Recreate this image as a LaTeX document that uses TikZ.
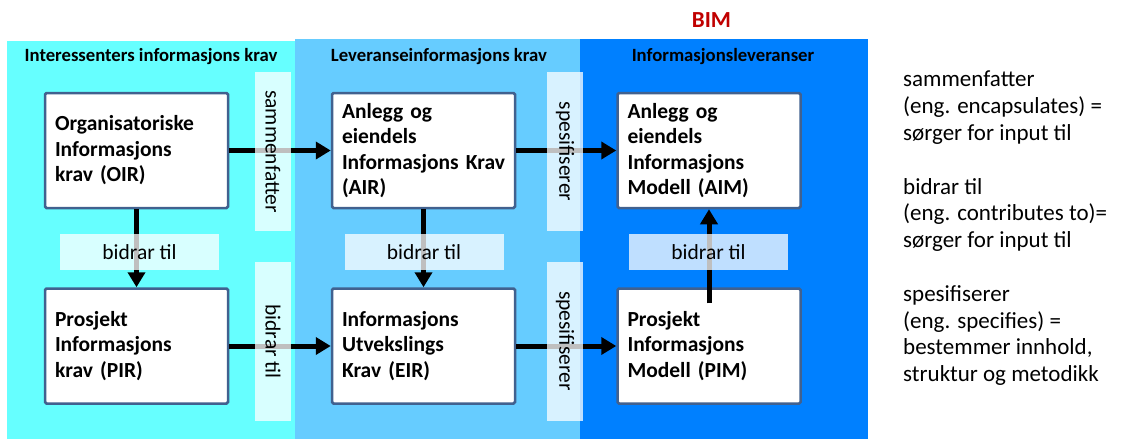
\documentclass[tikz,border=0pt]{standalone}
\usepackage{fontspec}
\setmainfont{Carlito}
\usetikzlibrary{arrows.meta}
\definecolor{interesse}{HTML}{66FFFF}
\definecolor{leveranse}{HTML}{66CCFF}
\definecolor{infolev}{HTML}{0080FF}
\definecolor{boxline}{HTML}{41618F}
\definecolor{bimred}{HTML}{C00000}
\def \panelA{ (7,41) rectangle (295,439) }
\def \panelB{ (295,39) rectangle (580,439) }
\def \panelC{ (580,39) rectangle (868,439) }

\begin{document}
\begin{tikzpicture}[x=1pt,y=-1pt,
    infobox/.style={draw=boxline, line width=2.5pt, fill=white, rounded corners=1.5pt,
      minimum width=183pt, minimum height=115pt, text width=163pt, inner xsep=10pt,
      align=left, font=\fontsize{21.5}{25.5}\selectfont\bfseries},
    header/.style={font=\fontsize{18.7}{21}\selectfont\bfseries},
    relation/.style={fill=white, fill opacity=0.75, text opacity=1, inner sep=0pt,
      minimum width=159pt, minimum height=36pt, font=\fontsize{21.5}{25}\selectfont},
    flow/.style={line width=5pt, -{Triangle[length=15pt,width=17pt]}}]

    \useasboundingbox (0,0) rectangle (1123,439);

    \fill[interesse] \panelA;
    \fill[leveranse] \panelB;
    \fill[infolev] \panelC;

    \node[header] (hA) at (151,57) {Interessenters informasjons krav};
    \node[header] (hB) at (439,57) {Leveranseinformasjons krav};
    \node[header] (hC) at (723,57) {Informasjonsleveranser};
    \node[font=\fontsize{23}{26}\selectfont\bfseries, text=bimred] (bim) at (711.5,20) {BIM};

    \node[infobox] (OIR) at (136.5,150.5) {Organisatoriske\\Informasjons\\krav (OIR)};
    \node[infobox] (PIR) at (136.5,346) {Prosjekt\\Informasjons\\krav (PIR)};
    \node[infobox] (AIR) at (423.5,150.5) {Anlegg og\\eiendels\\\mbox{Informasjons Krav}\\(AIR)};
    \node[infobox] (EIR) at (423.5,346) {Informasjons\\Utvekslings\\Krav (EIR)};
    \node[infobox] (AIM) at (709,150.5) {Anlegg og\\eiendels\\Informasjons\\Modell (AIM)};
    \node[infobox] (PIM) at (709,346) {Prosjekt\\Informasjons\\Modell (PIM)};

    \draw[flow] (OIR.east) -- (AIR.west);
    \draw[flow] (AIR.east) -- (AIM.west);
    \draw[flow] (PIR.east) -- (EIR.west);
    \draw[flow] (EIR.east) -- (PIM.west);
    \draw[flow] (OIR.south) -- (PIR.north);
    \draw[flow] (AIR.south) -- (EIR.north);
    \coordinate (pimstart) at ([yshift=-16pt]PIM.north);
    \draw[flow] (pimstart) -- (AIM.south);

    \node[relation, rotate=-90] (rA) at (273,151.5) {sammenfatter};
    \node[relation, rotate=-90] (rB) at (273,341.5) {bidrar til};
    \node[relation, rotate=-90] (rC) at (565,151.5) {spesifiserer};
    \node[relation, rotate=-90] (rD) at (565,341) {spesifiserer};
    \node[relation] (rE) at (139.5,252) {bidrar til};
    \node[relation] (rF) at (424,252) {bidrar til};
    \node[relation] (rG) at (708.5,252) {bidrar til};

    \node[anchor=north west, align=left, inner sep=0pt,
      font=\fontsize{23}{26.8}\selectfont] (legend) at (903,71)
      {sammenfatter\\(eng. encapsulates) =\\sørger for input til\\[26.8pt]
       bidrar til\\(eng. contributes to)=\\sørger for input til\\[26.8pt]
       spesifiserer\\(eng. specifies) =\\bestemmer innhold,\\struktur og metodikk};

  \end{tikzpicture}
\end{document}
